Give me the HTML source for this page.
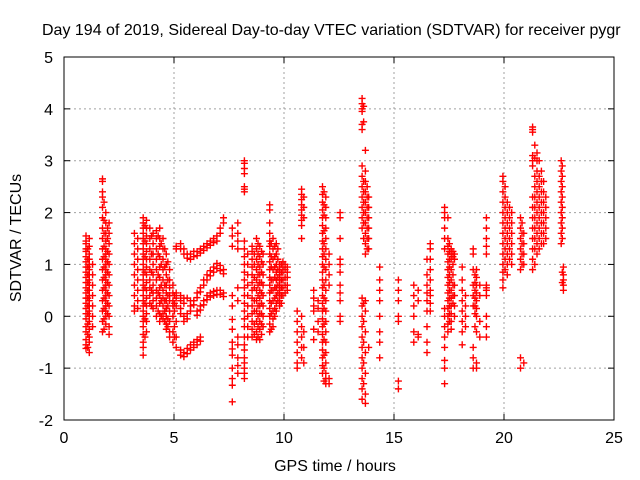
<!DOCTYPE html>
<html><head><meta charset="utf-8"><style>
body{margin:0;background:#fff;}
svg{display:block;font-family:"Liberation Sans",sans-serif;}
</style></head><body>
<svg id="chart" width="640" height="480" viewBox="0 0 640 480">
<text x="42" y="35" font-size="16" fill="#000">Day 194 of 2019, Sidereal Day-to-day VTEC variation (SDTVAR) for receiver pygr</text>
<text x="0" y="0" font-size="16" text-anchor="middle" transform="translate(21,238) rotate(-90)">SDTVAR / TECUs</text>
<text x="335" y="471" font-size="16" text-anchor="middle">GPS time / hours</text>
<g id="grid"></g><g id="ticks"></g><g id="marks"></g>
<rect x="64" y="57" width="550" height="363" fill="none" stroke="#000" stroke-width="1"/>
</svg>
<script>
const xTicks=[0,5,10,15,20,25];
const yTicks=[-2,-1,0,1,2,3,4,5];
const streakA=[[1.0,[1.55,1.45,1.4,1.3,1.25,1.15,1.05,0.95,0.85,0.75,0.65,0.55,0.45,0.35,0.25,0.15,0.05,-0.05,-0.2,-0.3,-0.45,-0.55,-0.62]],
[1.15,[1.5,1.35,1.2,1.1,1.0,0.9,0.8,0.7,0.6,0.5,0.4,0.3,0.2,0.1,0.0,-0.1,-0.25,-0.4,-0.5,-0.7]],
[1.3,[1.0,0.8,0.6,0.4,0.2,0.0,-0.2]],
[1.75,[2.65,2.6,2.4,2.3,2.1,1.9,1.7,1.5,1.3,1.1,0.9,0.7,0.5,0.3,0.1,-0.1,-0.3]],
[1.9,[2.0,1.8,1.6,1.45,1.3,1.2,1.1,1.0,0.9,0.8,0.7,0.6,0.5,0.4,0.3,0.2,0.1,0.0,-0.15]],
[2.05,[1.8,1.6,1.4,1.2,1.0,0.8,0.6,0.4,0.2,0.0,-0.2,-0.35]],
[3.2,[1.6,1.4,1.2,1.0,0.8,0.6,0.4,0.2,0.1]],
[3.35,[1.5,1.3,1.1,0.9,0.7,0.5,0.3,0.15]],
[3.6,[1.9,1.8,1.7,1.6,1.5,1.4,1.3,1.2,1.1,1.0,0.9,0.8,0.7,0.6,0.5,0.4,0.3,0.2,0.1,0.0,-0.1,-0.2,-0.35,-0.5,-0.6,-0.75]],
[3.75,[1.85,1.7,1.55,1.4,1.25,1.1,0.95,0.8,0.65,0.5,0.35,0.2,0.05,-0.1,-0.3]],
[3.9,[1.7,1.5,1.3,1.1,0.9,0.7,0.55,0.4,0.25]],
[4.05,[1.6,1.4,1.2,1.0,0.8,0.6,0.45,0.3,0.15]],
[4.2,[1.65,1.5,1.3,1.1,0.9,0.7,0.5,0.35,0.2,0.0]],
[4.35,[1.7,1.5,1.35,1.15,0.95,0.75,0.55,0.4,0.25,0.05,-0.1]],
[4.5,[1.5,1.3,1.1,0.9,0.7,0.5,0.35,0.2,0.05,-0.05]],
[4.65,[1.2,1.0,0.8,0.6,0.45,0.3,0.15,0.0,-0.15,-0.25]],
[4.8,[0.9,0.7,0.55,0.4,0.3,0.1,-0.1,-0.3,-0.4]],
[4.95,[0.6,0.45,0.3,0.2,0.0,-0.3,-0.5]],
[5.1,[1.35,1.3,0.45,0.35,0.2,-0.1,-0.4,-0.6]]];
const streakB=[[5.3,[1.4,1.3,0.4,0.3,0.15,0.05,-0.65,-0.75]],
[5.45,[1.3,1.2,0.35,0.25,0.0,-0.1,-0.7,-0.78]],
[5.6,[1.2,1.12,0.35,0.05,-0.05,-0.62,-0.72]],
[5.75,[1.2,1.1,0.3,0.2,0.1,-0.55,-0.65]],
[5.9,[1.25,1.15,0.3,0.22,-0.5,-0.6]],
[6.05,[1.25,1.17,0.45,0.36,0.1,0.02,-0.45,-0.55]],
[6.2,[1.3,1.22,0.55,0.47,0.2,0.12,-0.4,-0.48]],
[6.35,[1.35,1.27,0.7,0.6,0.3,0.22]],
[6.5,[1.4,1.32,0.8,0.7,0.4,0.32]],
[6.65,[1.45,1.37,0.88,0.78,0.45,0.37]],
[6.8,[1.5,1.42,0.95,0.85,0.48,0.4]],
[6.95,[1.55,1.45,1.02,0.92,0.5,0.42]],
[7.1,[1.7,1.6,0.98,0.88,0.5,0.42]],
[7.25,[1.9,1.8,0.9,0.82,0.45,0.38]],
[7.65,[1.7,1.55,1.35,0.4,0.2,-0.06,-0.25,-0.5,-0.63,-0.75,-1.0,-1.2,-1.33,-1.65]],
[7.9,[1.8,1.6,1.45,1.3,0.55,0.3,-0.4,-0.55,-0.8,-0.95,-1.1]],
[8.2,[3.0,2.95,2.85,2.75,2.5,2.45,2.4,1.45,1.3,1.15,1.0,0.85,0.7,0.55,0.4,0.25,0.1,-0.05,-0.2,-0.4,-0.55,-0.65,-0.8,-0.9,-1.0,-1.1,-1.2]],
[8.35,[1.2,1.0,0.8,0.6,0.4,0.2,0.0,-0.2,-0.4]],
[8.55,[1.35,1.25,1.1,0.95,0.8,0.65,0.5,0.35,0.2,0.05,-0.1,-0.25,-0.4]],
[8.75,[1.5,1.3,1.1,0.9,0.7,0.5,0.3,0.1,-0.1,-0.3,-0.45]],
[8.9,[1.35,1.15,0.95,0.8,0.65,0.5,0.35,0.2,0.05,-0.1,-0.25,-0.45]],
[9.05,[1.2,1.0,0.8,0.6,0.4,0.2,0.0,-0.2]],
[9.35,[2.15,2.05,1.8,1.6,1.45,1.35,1.2,1.05,0.9,0.75,0.6,0.45,0.3,0.15,0.0,-0.15,-0.3]],
[9.5,[1.5,1.3,1.1,0.9,0.7,0.5,0.3,0.1,-0.05,-0.2]],
[9.65,[1.4,1.2,1.0,0.85,0.7,0.55,0.4,0.25,0.1]],
[9.8,[1.0,0.9,0.8,0.7,0.6,0.5,0.4,0.3,0.2]],
[9.95,[1.05,0.95,0.85,0.7,0.55,0.4]],
[10.15,[0.95,0.85,0.75,0.6,0.5]]];
const streakC=[[10.6,[0.1,-0.1,-0.3,-0.5,-0.7,-0.9,-1.0]],
[10.8,[2.45,2.35,2.25,2.15,2.05,1.95,1.85,1.75,1.5,0.0,-0.2,-0.4,-0.6,-0.8]],
[10.9,[2.3,2.1,1.9,-0.3,-0.6,-0.9]],
[11.35,[0.5,0.35,0.2,0.1,-0.25,-0.45]],
[11.55,[0.3,0.15,-0.1,-0.3]],
[11.75,[2.5,2.35,2.2,2.05,1.9,1.75,1.6,1.45,1.3,1.15,1.0,0.85,0.7,0.55,0.4,0.25,0.1,-0.05,-0.2,-0.35,-0.5,-0.65,-0.8,-0.95,-1.1]],
[11.9,[2.3,2.1,1.9,1.7,1.5,1.3,1.1,0.9,0.7,0.5,0.3,0.1,-0.1,-0.3,-0.5,-0.7,-0.9,-1.1,-1.2,-1.3]],
[12.05,[1.2,1.0,0.8,0.6,-1.2,-1.3]],
[12.55,[2.0,1.9,1.5,1.1,1.0,0.85,0.6,0.45,0.3,0.0,-0.1]],
[13.55,[4.2,4.1,4.0,3.95,3.7,3.6,2.9,2.7,2.5,2.3,2.1,1.9,1.7,0.35,0.2,0.0,-0.2,-0.4,-0.6,-0.8,-1.0,-1.2,-1.4,-1.6]],
[13.7,[3.2,2.8,2.6,2.4,2.2,2.0,1.8,1.6,1.4,1.2,0.3,0.1,-0.3,-0.7,-1.1,-1.5,-1.68]],
[13.85,[2.3,2.1,1.9,1.7,1.5,1.3,-0.6]],
[14.35,[0.95,0.7,0.5,0.3,0.0,-0.3,-0.5,-0.8]],
[15.2,[0.7,0.5,0.3,0.0,-0.1,-1.25,-1.4]],
[15.9,[0.6,0.4,0.2,0.0,-0.3,-0.5]],
[16.1,[0.5,0.3,-0.35,-0.4]]];
const streakD=[[16.5,[1.1,0.8,0.6,0.45,0.3,0.1,-0.2,-0.5,-0.7]],
[16.65,[1.4,1.3,1.1,0.9,0.7,0.5,0.4,0.25,0.1]],
[17.3,[2.1,2.0,1.9,1.7,1.5,1.3,0.15,0.0,-0.2,-0.4,-0.6,-0.85,-1.0,-1.3]],
[17.45,[1.9,1.5,1.35,1.2,1.05,0.9,0.75,0.6,0.45,0.3,0.15,0.0,-0.15,-0.3]],
[17.6,[1.3,1.2,1.1,0.9,0.7,0.5,0.35,0.2,0.05,-0.1,-0.25]],
[17.75,[1.2,1.1,0.6,0.4,0.2,0.0]],
[18.1,[0.95,0.7,0.5,0.3,0.1,-0.1,-0.3,-0.55]],
[18.25,[0.4,0.2,0.0,-0.2]],
[18.6,[1.3,1.2,0.9,0.6,0.4,0.2,-0.6,-0.8,-1.0]],
[18.75,[0.9,0.75,0.6,0.45,0.3,0.15,0.0,-0.3,-0.9,-1.0]],
[18.9,[0.6,0.4,-0.1,-0.4]],
[19.2,[1.9,1.7,1.5,1.35,1.2,0.6,0.55,0.5,0.4,0.0,-0.2,-0.4]],
[19.95,[2.7,2.6,2.4,2.2,2.0,1.8,1.6,1.4,1.2,1.0,0.85,0.7,0.55]],
[20.15,[2.2,2.0,1.8,1.6,1.4,1.2,1.0,0.8]],
[20.35,[2.0,1.8,1.6,1.4,1.2,1.0]],
[20.75,[1.9,1.7,1.5,1.3,1.1,0.9,-0.8,-1.0]],
[20.9,[1.6,1.4,1.2,1.0,-0.9]],
[21.3,[3.65,3.6,3.55,3.1,3.0,2.9,2.3,2.1,1.9,1.7,1.5,1.3,1.1,0.9]],
[21.5,[3.15,3.0,2.8,2.6,2.4,2.2,2.0,1.8,1.6,1.4,1.2]],
[21.7,[2.8,2.6,2.4,2.2,2.0,1.8,1.6,1.4]],
[21.9,[2.3,2.1,1.9,1.7,1.5]],
[22.6,[3.0,2.8,2.6,2.4,2.2,2.0,1.8,1.6,1.4]],
[22.7,[0.95,0.8,0.7,0.6,0.5]]];
const streakE=[[1.08,[1.3,1.1,0.95,0.8,0.65,0.5,0.35,0.2,0.05,-0.15,-0.35,-0.6]],
[1.82,[2.2,1.85,1.6,1.35,1.15,0.95,0.75,0.55,0.35,0.15,-0.05,-0.25]],
[1.98,[1.7,1.5,1.25,1.05,0.85,0.65,0.45,0.25,0.05]],
[3.68,[1.75,1.45,1.15,0.85,0.55,0.25,-0.05,-0.4]],
[3.98,[1.55,1.2,0.85,0.5,0.2]],
[4.28,[1.55,1.2,0.8,0.45,0.1]],
[4.42,[1.4,1.0,0.6,0.3,0.0]],
[4.58,[1.3,0.95,0.6,0.3,0.1,-0.1]],
[4.72,[1.05,0.7,0.4,0.2,-0.05,-0.2]],
[5.02,[0.4,0.25,0.1,-0.2,-0.4]],
[8.65,[1.2,1.0,0.75,0.55,0.3,0.1,-0.15,-0.35]],
[8.82,[1.4,1.2,1.0,0.8,0.6,0.4,0.2,0.0,-0.2,-0.4]],
[8.98,[1.25,1.05,0.85,0.65,0.45,0.25,0.05,-0.15,-0.35]],
[9.42,[1.4,1.15,0.95,0.7,0.5,0.25,0.05,-0.25]],
[9.58,[1.35,1.15,0.95,0.75,0.55,0.35,0.15,0.0]],
[9.72,[1.3,1.1,0.9,0.75,0.6,0.45,0.3]],
[9.88,[1.0,0.85,0.7,0.55,0.4,0.25]],
[10.05,[1.0,0.9,0.75,0.6,0.45]],
[11.82,[2.4,2.15,1.95,1.65,1.4,1.2,0.95,0.6,0.35,0.15,-0.15,-0.45,-0.75,-1.0,-1.25]],
[13.62,[4.05,3.75,2.6,2.4,2.2,2.0,1.8,1.5,0.25,-0.1,-0.5,-0.9,-1.3]],
[13.78,[2.5,2.3,2.1,1.9,1.7,1.5,1.3]],
[17.52,[1.4,1.25,1.1,0.95,0.8,0.65,0.5,0.35,0.2,0.05,-0.1]],
[17.68,[1.25,1.15,1.0,0.8,0.6,0.4,0.25]],
[18.68,[0.8,0.65,0.5,0.35,0.2,0.05,-0.2]],
[20.05,[2.5,2.3,2.1,1.9,1.7,1.5,1.3,1.1,0.9]],
[20.25,[2.1,1.9,1.7,1.5,1.3,1.1]],
[20.82,[1.8,1.6,1.4,1.2,1.0]],
[21.4,[3.3,3.05,2.7,2.5,2.3,2.1,1.9,1.7,1.5,1.3,1.0]],
[21.6,[3.0,2.7,2.5,2.3,2.1,1.9,1.7,1.5,1.3]],
[21.8,[2.6,2.4,2.2,2.0,1.8,1.6,1.4]],
[22.65,[2.9,2.7,2.5,2.3,2.1,1.9,1.7,1.5,0.85,0.65]]];

const X0=64,X1=614,Y0=420,Y1=57;
function xs(t){return X0+(t-0)/(25-0)*(X1-X0);}
function ys(v){return Y0-(v-(-2))/(5-(-2))*(Y0-Y1);}
const NS='http://www.w3.org/2000/svg';
const grid=document.getElementById('grid'),ticks=document.getElementById('ticks'),marks=document.getElementById('marks');
function mk(tag,attrs,parent){const e=document.createElementNS(NS,tag);for(const k in attrs)e.setAttribute(k,attrs[k]);parent.appendChild(e);return e;}
xTicks.forEach(t=>{
  const x=xs(t);
  if(t>0&&t<25){const g=mk('line',{x1:x,y1:Y1,x2:x,y2:Y0,stroke:'#a0a0a0','stroke-dasharray':'2,3'},grid);
  
  }
  mk('line',{x1:x,y1:Y0,x2:x,y2:Y0-6,stroke:'#000'},ticks);
  mk('line',{x1:x,y1:Y1,x2:x,y2:Y1+6,stroke:'#000'},ticks);
  const l=mk('text',{x:x,y:Y0+23,'font-size':16,'text-anchor':'middle'},ticks);
  l.textContent=t;
  
  
});
yTicks.forEach(v=>{
  const y=ys(v);
  if(v>-2&&v<5){const g=mk('line',{x1:X0,y1:y,x2:X1,y2:y,stroke:'#a0a0a0','stroke-dasharray':'2,3'},grid);
  
  }
  mk('line',{x1:X0,y1:y,x2:X0+6,y2:y,stroke:'#000'},ticks);
  mk('line',{x1:X1,y1:y,x2:X1-6,y2:y,stroke:'#000'},ticks);
  const l=mk('text',{x:X0-11,y:y+6,'font-size':16,'text-anchor':'end'},ticks);
  l.textContent=v;
  
  
});
[streakA,streakB,streakC,streakD,streakE].forEach(group=>{
  group.forEach(s=>{
    const t=s[0];
    s[1].forEach(v=>{
      const x=xs(t),y=ys(v);
      const p=mk('path',{d:`M${x-3.5},${y}h7M${x},${y-3.5}v7`,stroke:'#ff0000','stroke-width':1.4,fill:'none'},marks);
      
      
    });
  });
});
</script>
</body></html>
